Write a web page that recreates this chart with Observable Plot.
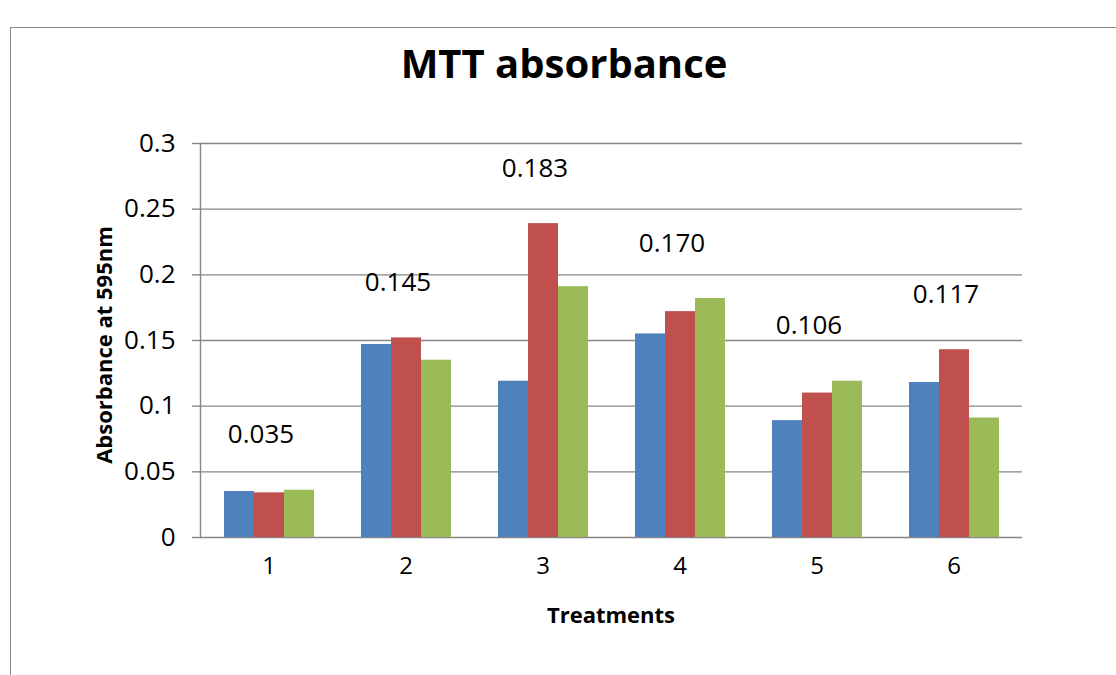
<!DOCTYPE html>
<html>
<head>
<meta charset="utf-8">
<script src="https://cdn.jsdelivr.net/npm/d3@7"></script>
<script src="https://cdn.jsdelivr.net/npm/@observablehq/plot@0.6"></script>
<style>
  html, body { margin: 0; padding: 0; background: #fff; }
  #wrap { position: relative; width: 1116px; height: 675px; overflow: hidden; font-family: "Open Sans", sans-serif; color: #000; }
  #wrap svg { position: absolute; left: 0; top: 0; }
  .ov { position: absolute; white-space: nowrap; line-height: 1; transform: translate(-50%, -50%); }
  #border { position: absolute; left: 10px; top: 27px; width: 1200px; height: 800px; border: 1.5px solid #8a8a8a; box-sizing: border-box; pointer-events: none; }
</style>
</head>
<body>
<div id="wrap">
  <div id="chart"></div>
  <div id="border"></div>
  <div class="ov" id="title" style="left:564px; top:63px; font-size:40px; font-weight:700;">MTT absorbance</div>
  <div class="ov" id="ytitle" style="left:103px; top:345px; font-size:22px; font-weight:700; transform: translate(-50%, -50%) rotate(-90deg);">Absorbance at 595nm</div>
  <div class="ov" id="xtitle" style="left:611px; top:614px; font-size:22px; font-weight:700;">Treatments</div>
</div>
<script>
const treatments = ["1", "2", "3", "4", "5", "6"];
const replicates = ["Rep 1", "Rep 2", "Rep 3"];
const rep1 = [0.035, 0.147, 0.119, 0.155, 0.089, 0.118];
const rep2 = [0.034, 0.152, 0.239, 0.172, 0.110, 0.143];
const rep3 = [0.036, 0.135, 0.191, 0.182, 0.119, 0.091];
const meanLabels = ["0.035", "0.145", "0.183", "0.170", "0.106", "0.117"];
const yTicks = [0, 0.05, 0.1, 0.15, 0.2, 0.25, 0.3];
const yTickLabels = ["0", "0.05", "0.1", "0.15", "0.2", "0.25", "0.3"];
const colors = ["#4F81BD", "#C0504D", "#9BBB59"];

const seriesValues = [rep1, rep2, rep3];
const table = [];
treatments.forEach((t, i) => {
  replicates.forEach((r, j) => {
    table.push({treatment: t, replicate: r, value: seriesValues[j][i]});
  });
});
const labels = treatments.map((t, i) => ({
  treatment: t,
  text: meanLabels[i],
  top: d3.max(seriesValues, s => s[i])
}));

const gray = "#868686";

const chart = Plot.plot({
  width: 1116,
  height: 675,
  marginLeft: 198,
  marginRight: 93,
  marginTop: 143,
  marginBottom: 138,
  style: {fontFamily: "Open Sans, sans-serif", background: "transparent", color: "#000", overflow: "visible"},
  fx: {domain: treatments, padding: 0, label: null},
  x: {domain: replicates, paddingInner: 0, paddingOuter: 0.75, axis: null},
  y: {domain: [0, 0.3], label: null},
  color: {domain: replicates, range: colors},
  marks: [
    Plot.gridY(yTicks, {stroke: gray, strokeOpacity: 1, strokeWidth: 1.4}),
    Plot.axisY(yTicks, {
      tickSize: 8, tickPadding: 17, stroke: gray, strokeWidth: 1.4, strokeOpacity: 1,
      fontSize: 26, label: null, tickFormat: (d) => yTickLabels[yTicks.indexOf(d)], fill: "#000"
    }),
    Plot.barY(table, {fx: "treatment", x: "replicate", y: "value", fill: "replicate"}),
    Plot.frame({anchor: "left", facetAnchor: "left", stroke: gray, strokeWidth: 1.4}),
    Plot.axisFx({anchor: "bottom", tickSize: 0, tickPadding: 19, fontSize: 24, label: null, fill: "#000"}),
    Plot.text(labels, {
      fx: "treatment", y: (d) => d.top + 0.042, text: "text",
      dx: -8, fontSize: 26, fill: "#000"
    })
  ]
});
document.getElementById("chart").appendChild(chart);
</script>
</body>
</html>
